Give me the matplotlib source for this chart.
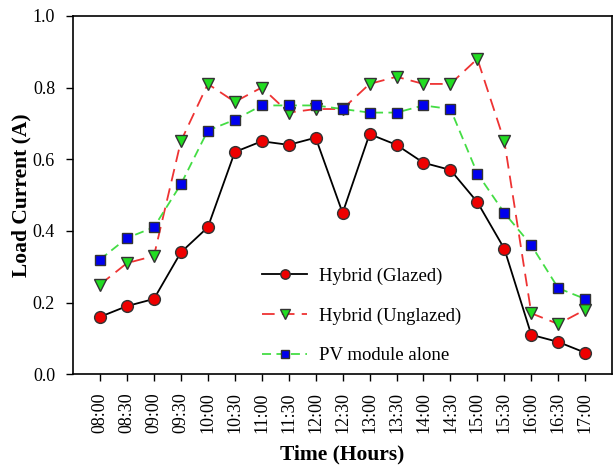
import matplotlib
matplotlib.use('Agg')
import matplotlib.pyplot as plt

plt.rcParams['font.family'] = ['Liberation Serif', 'DejaVu Serif']

times = ['08:00', '08:30', '09:00', '09:30', '10:00', '10:30', '11:00', '11:30',
         '12:00', '12:30', '13:00', '13:30', '14:00', '14:30', '15:00', '15:30',
         '16:00', '16:30', '17:00']
glazed = [0.16, 0.19, 0.21, 0.34, 0.41, 0.62, 0.65, 0.64, 0.66, 0.45,
          0.67, 0.64, 0.59, 0.57, 0.48, 0.35, 0.11, 0.09, 0.06]
unglazed = [0.25, 0.31, 0.33, 0.65, 0.81, 0.76, 0.80, 0.73, 0.74, 0.74,
            0.81, 0.83, 0.81, 0.81, 0.88, 0.65, 0.17, 0.14, 0.18]
pv_alone = [0.32, 0.38, 0.41, 0.53, 0.68, 0.71, 0.75, 0.75, 0.75, 0.74,
            0.73, 0.73, 0.75, 0.74, 0.56, 0.45, 0.36, 0.24, 0.21]

x = list(range(len(times)))

fig = plt.figure(figsize=(6.14, 4.66), dpi=100)
ax = fig.add_axes([0.119, 0.197, 0.878, 0.769])

ax.plot(x, glazed, color='black', linestyle='-', linewidth=1.3,
        marker='o', markersize=8.5, markerfacecolor='#ee0000', markeredgecolor='#333333',
        label='Hybrid (Glazed)')
ax.plot(x, unglazed, color='#ee3333', linestyle=(0, (7, 4)), linewidth=1.3,
        marker='v', markersize=8.5, markerfacecolor='#22dd22', markeredgecolor='#333333',
        label='Hybrid (Unglazed)')
ax.plot(x, pv_alone, color='#44dd44', linestyle=(0, (5, 3)), linewidth=1.3,
        marker='s', markersize=7, markerfacecolor='#0000ee', markeredgecolor='#333333',
        label='PV module alone')

ax.set_xlim(-1, 19)
ax.set_ylim(0, 1.0)
ax.set_xticks(x)
ax.set_xticklabels(times, rotation=90, fontsize=13)
ax.set_yticks([0.0, 0.2, 0.4, 0.6, 0.8, 1.0])
ax.set_yticklabels(['0.0', '0.2', '0.4', '0.6', '0.8', '1.0'], fontsize=13)
ax.tick_params(direction='out', length=5, width=1, pad=8)
for s in ax.spines.values():
    s.set_linewidth(1.2)

ax.set_xlabel('Time (Hours)', fontsize=15.5, fontweight='bold', labelpad=8)
ax.set_ylabel('Load Current (A)', fontsize=15.5, fontweight='bold', labelpad=1)

ax.legend(loc='lower left', bbox_to_anchor=(0.32, -0.02), frameon=False,
          fontsize=13.5, handlelength=2.4, handletextpad=0.6, labelspacing=1.2,
          markerscale=0.8)

fig.savefig('out.png', dpi=100)
